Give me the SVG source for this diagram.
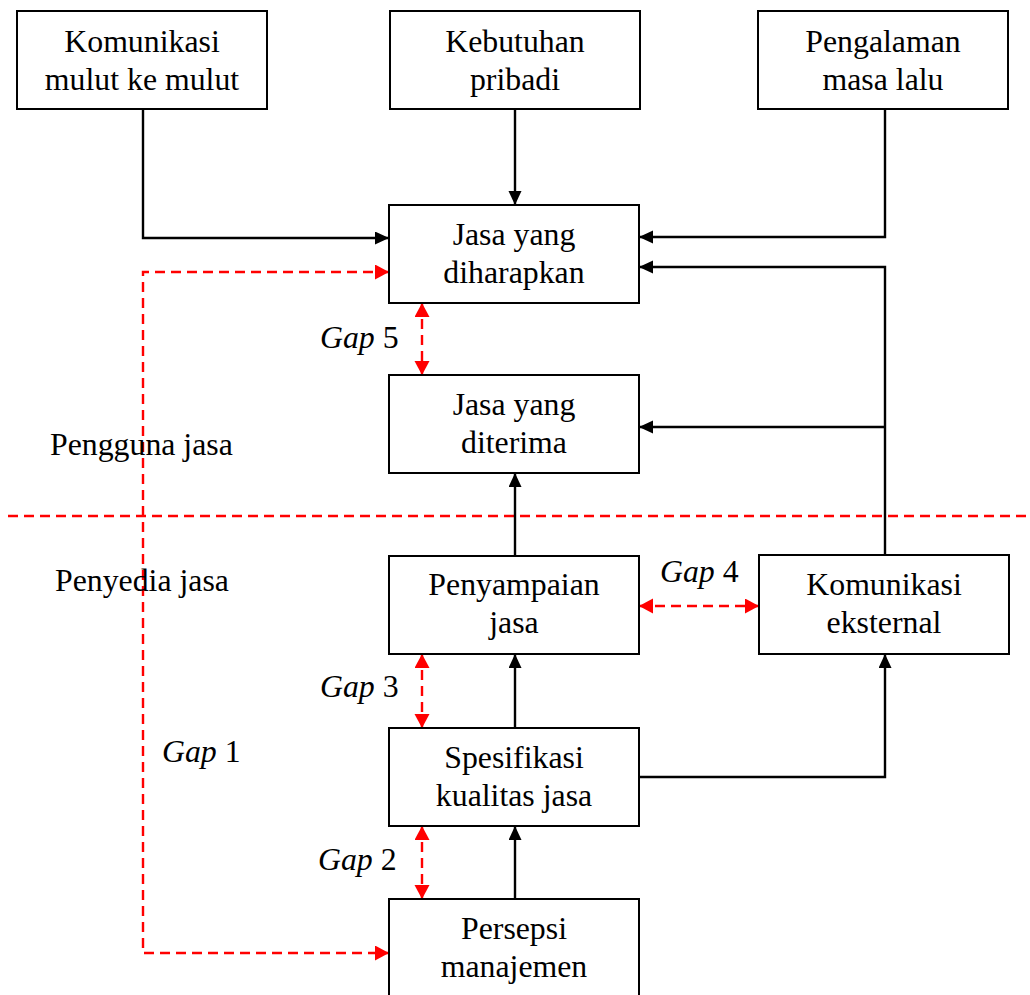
<svg xmlns="http://www.w3.org/2000/svg" width="1030" height="995" viewBox="0 0 1030 995">
<style>
.box{fill:#fff;stroke:#000;stroke-width:2}
text{font-family:"Liberation Serif","Times New Roman",serif;font-size:31.8px;fill:#000}
.c{text-anchor:middle}
.i{font-style:italic}
.k{fill:none;stroke:#000;stroke-width:2.4}
.r{fill:none;stroke:#f00;stroke-width:2.4;stroke-dasharray:10 6}
</style>
<defs>
<marker id="ab" markerUnits="userSpaceOnUse" markerWidth="16" markerHeight="14" refX="14" refY="6.5" orient="auto-start-reverse"><path d="M0,0 L14,6.5 L0,13 z" fill="#000"/></marker>
<marker id="ar" markerUnits="userSpaceOnUse" markerWidth="16" markerHeight="16" refX="14" refY="7.5" orient="auto-start-reverse"><path d="M0,0 L14,7.5 L0,15 z" fill="#f00"/></marker>
</defs>
<g id="divider"><path class="r" d="M8,516 H1030"/></g>
<g id="connectors">
<path class="k" d="M143,109 V238 H389" marker-end="url(#ab)"/>
<path class="k" d="M515,109 V205" marker-end="url(#ab)"/>
<path class="k" d="M885,109 V237 H639" marker-end="url(#ab)"/>
<path class="k" d="M885,555 V267 H639" marker-end="url(#ab)"/>
<path class="k" d="M885,427 H639" marker-end="url(#ab)"/>
<path class="k" d="M515,556 V473" marker-end="url(#ab)"/>
<path class="k" d="M515,728 V654" marker-end="url(#ab)"/>
<path class="k" d="M515,899 V826" marker-end="url(#ab)"/>
<path class="k" d="M639,777 H885 V654" marker-end="url(#ab)"/>
<path class="r" d="M389,272 H143 V953 H389" marker-start="url(#ar)" marker-end="url(#ar)"/>
<path class="r" d="M422,303 V375" marker-start="url(#ar)" marker-end="url(#ar)"/>
<path class="r" d="M422,654 V728" marker-start="url(#ar)" marker-end="url(#ar)"/>
<path class="r" d="M422,826 V899" marker-start="url(#ar)" marker-end="url(#ar)"/>
<path class="r" d="M639,606 H759" marker-start="url(#ar)" marker-end="url(#ar)"/>
</g>
<g id="n-komunikasi-mulut"><rect class="box" x="17" y="11" width="250" height="98"/><text class="c" x="142" y="52">Komunikasi</text><text class="c" x="142" y="90">mulut ke mulut</text></g>
<g id="n-kebutuhan"><rect class="box" x="390" y="11" width="250" height="98"/><text class="c" x="515" y="52">Kebutuhan</text><text class="c" x="515" y="90">pribadi</text></g>
<g id="n-pengalaman"><rect class="box" x="758" y="11" width="250" height="98"/><text class="c" x="883" y="52">Pengalaman</text><text class="c" x="883" y="90">masa lalu</text></g>
<g id="n-diharapkan"><rect class="box" x="389" y="205" width="250" height="98"/><text class="c" x="514" y="245">Jasa yang</text><text class="c" x="514" y="283">diharapkan</text></g>
<g id="n-diterima"><rect class="box" x="389" y="375" width="250" height="98"/><text class="c" x="514" y="415">Jasa yang</text><text class="c" x="514" y="453">diterima</text></g>
<g id="n-penyampaian"><rect class="box" x="389" y="556" width="250" height="98"/><text class="c" x="514" y="595">Penyampaian</text><text class="c" x="514" y="633">jasa</text></g>
<g id="n-eksternal"><rect class="box" x="759" y="555" width="250" height="99"/><text class="c" x="884" y="595">Komunikasi</text><text class="c" x="884" y="633">eksternal</text></g>
<g id="n-spesifikasi"><rect class="box" x="389" y="728" width="250" height="98"/><text class="c" x="514" y="768">Spesifikasi</text><text class="c" x="514" y="806">kualitas jasa</text></g>
<g id="n-persepsi"><rect class="box" x="389" y="899" width="250" height="100"/><text class="c" x="514" y="939">Persepsi</text><text class="c" x="514" y="977">manajemen</text></g>
<g id="labels">
<text x="50" y="455">Pengguna jasa</text>
<text x="55" y="591">Penyedia jasa</text>
<text x="320" y="348"><tspan class="i">Gap</tspan> 5</text>
<text x="660" y="582"><tspan class="i">Gap</tspan> 4</text>
<text x="320" y="697"><tspan class="i">Gap</tspan> 3</text>
<text x="162" y="762"><tspan class="i">Gap</tspan> 1</text>
<text x="318" y="870"><tspan class="i">Gap</tspan> 2</text>
</g>
</svg>
